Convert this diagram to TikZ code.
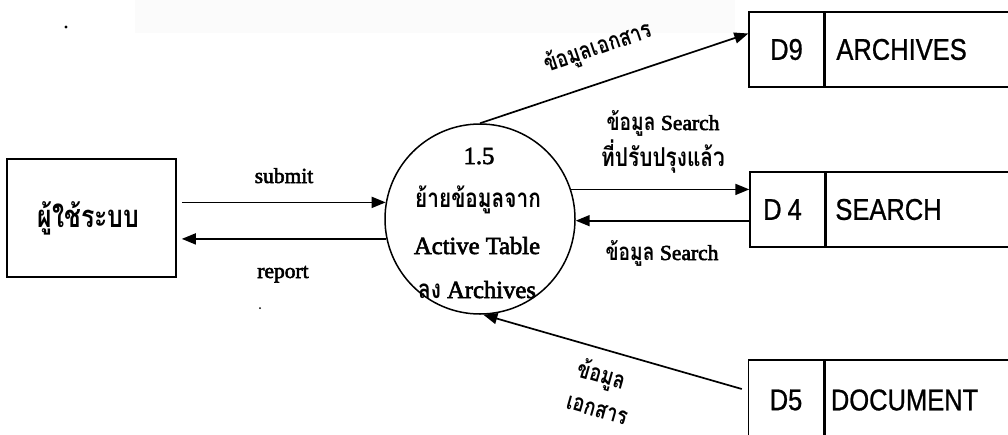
\documentclass[tikz,border=0pt]{standalone}
\usepackage{fontspec}
\setmainfont[FakeBold=2.5]{Liberation Serif}
\newfontfamily\thai[Script=Thai,FakeStretch=0.8]{Loma}
\newfontfamily\storefont[FakeStretch=0.85,FakeBold=0.8]{Liberation Sans}
\usetikzlibrary{arrows.meta}

\begin{document}
\begin{tikzpicture}[x=1pt,y=-1pt,
  flow/.style={line width=1.7pt,-{Triangle[length=14pt,width=11pt]}},
  entity/.style={draw,line width=1.6pt,minimum width=169pt,minimum height=118pt,inner sep=0pt},
  procbubble/.style={draw,circle,line width=1.5pt,minimum size=190pt,inner sep=0pt},
  storeid/.style={draw,line width=1.4pt,minimum width=75pt,minimum height=75pt,inner sep=0pt,
    font=\storefont\fontsize{30}{30}\selectfont},
  storename/.style={draw,line width=1.4pt,anchor=west,minimum height=75pt,text width=250pt,
    align=left,inner xsep=11pt,font=\storefont\fontsize{30}{30}\selectfont},
  lbl/.style={inner sep=0pt,font=\fontsize{21.5}{24}\selectfont},
  thl/.style={inner sep=0pt,font=\thai\bfseries\fontsize{24}{28}\selectfont},
  ptext/.style={inner sep=0pt,anchor=base,font=\fontsize{24.6}{28}\selectfont},
]
\newcommand\thw[1]{{\thai\bfseries\fontsize{24}{28}\selectfont #1}}
\path[use as bounding box] (0,0) rectangle (1008,434);
\clip (0,0) rectangle (1008,434);

% faint band along the top edge
\fill[black!1.5] (135,0) rectangle (735,33);

% external entity
\node[entity] (user) at (91.5,218) {\thai\bfseries\fontsize{31}{34}\selectfont\kern-6pt ผู้ใช้ระบบ};

% process 1.5
\node[procbubble] (proc) at (480,219) {};
\node[ptext] (p1) at (479,164) {1.5};
\node[ptext,font=\thai\bfseries\fontsize{26}{28}\selectfont] (p2) at (478,207) {ย้ายข้อมูลจาก};
\node[ptext] (p3) at (477,254) {Active Table};
\node[ptext] (p4) at (477,298) {{\thai\bfseries\fontsize{26}{28}\selectfont ลง} Archives};

% data stores
\node[storeid] (d9id) at (786.5,49.5) {D9};
\node[storename] (d9n) at (d9id.east) {ARCHIVES};
\node[storeid] (d4id) at (787.5,209.5) {D\kern6pt4\kern10pt};
\node[storename,inner xsep=9pt] (d4n) at (d4id.east) {SEARCH};
\node[storeid,minimum height=80pt] (d5id) at (786,400) {D5};
\node[storename,minimum height=80pt,inner xsep=6pt] (d5n) at (d5id.east) {DOCUMENT};

% flows between the user and the process
\draw[flow,shorten <=5pt] (user.east |- proc.170) -- (proc.170);
\draw[flow,shorten >=5pt] (proc.192) -- (user.east |- proc.192);
\node[lbl,anchor=base] (lsubmit) at (284,183) {submit};
\node[lbl,anchor=base] (lreport) at (283,278) {report};

% flows between the process and the stores
\draw[flow] (proc.north) -- ([yshift=16pt]d9id.west);
\draw[flow] (proc.18) -- (d4id.west |- proc.18);
\draw[flow] (d4id.west |- proc.-1) -- (proc.-1);
\draw[flow] ([xshift=-6pt,yshift=11pt]d5id.west) -- (proc.-88);

\node[thl,rotate=19] (ldoc) at (598,48) {ข้อมูลเอกสาร};
\node[lbl,anchor=base] (lsrch1) at (663,130) {\thw{ข้อมูล} Search};
\node[thl,anchor=base,font=\thai\bfseries\fontsize{26}{28}\selectfont] (lsrch2) at (663,166) {ที่ปรับปรุงแล้ว};
\node[lbl,anchor=base] (lsrch3) at (662,260) {\thw{ข้อมูล} Search};
\node[thl,rotate=-16] (ld5a) at (601,376) {ข้อมูล};
\node[thl,rotate=-16] (ld5b) at (597,410) {เอกสาร};

% specks
\fill (66,27) circle (1.6pt);
\fill (260,308) circle (1pt);
\end{tikzpicture}
\end{document}
